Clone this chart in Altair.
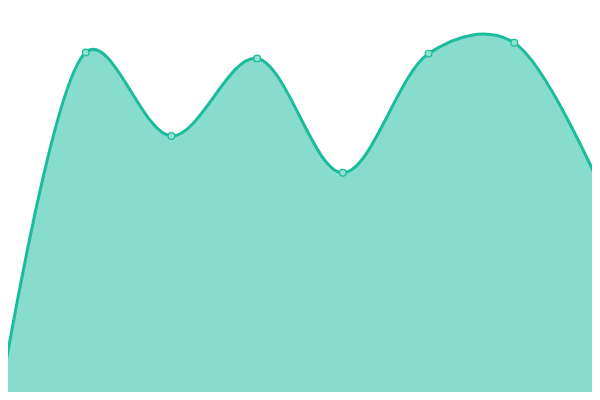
import altair as alt
import pandas as pd

idx = [0, 1, 2, 3, 4, 5, 6, 7]
values = [0.5, 86.9, 66.0, 85.4, 56.8, 86.6, 89.3, 53.5]

df = pd.DataFrame({"i": idx, "v": values})

x = alt.X("i:Q", axis=None, scale=alt.Scale(domain=[0, 7], nice=False, zero=False))
y = alt.Y("v:Q", axis=None, scale=alt.Scale(domain=[0, 100], nice=False))

area = alt.Chart(df).mark_area(
    interpolate="catmull-rom",
    tension=0.25,
    color="#1abc9c",
    fillOpacity=0.52,
    line={"color": "#1abc9c", "strokeWidth": 3},
).encode(x=x, y=y)

pts = alt.Chart(df).mark_point(
    filled=True, size=45, fill="#8ee2d1", stroke="#1fb997", strokeWidth=1.2, opacity=1
).encode(x=x, y=y)

chart = (area + pts).properties(
    width=600,
    height=400,
    autosize=alt.AutoSizeParams(type="none"),
    padding={"left": -8, "top": -8, "right": -8, "bottom": -8},
).configure_view(stroke=None)

chart.save("out.html", embed_options={"renderer": "svg", "actions": False})
